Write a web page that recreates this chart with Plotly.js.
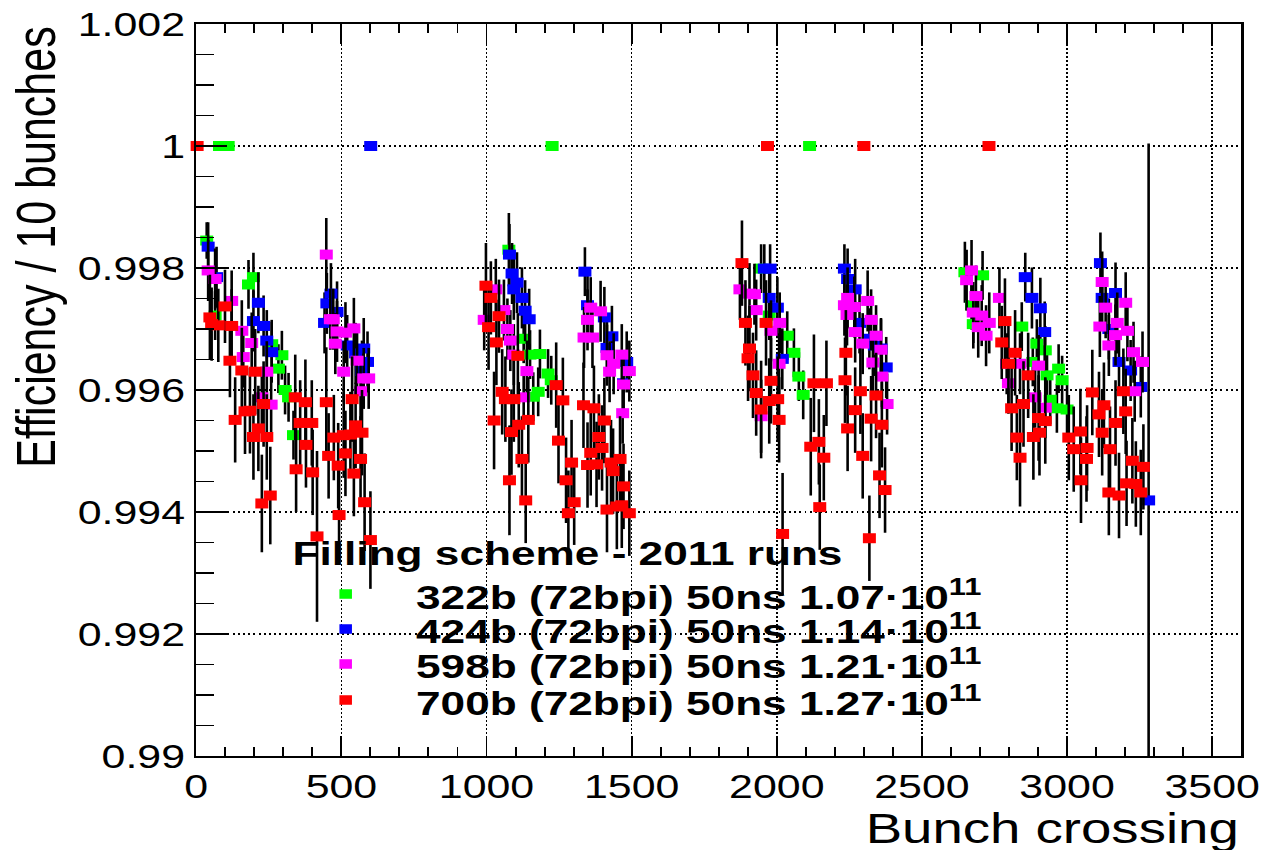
<!DOCTYPE html>
<html>
<head>
<meta charset="utf-8">
<script src="https://cdn.plot.ly/plotly-3.0.1.min.js"></script>
<style>
  html, body { margin: 0; padding: 0; background: #ffffff; overflow: hidden; }
  #wrap { width: 1262px; height: 850px; overflow: hidden; }
  #plot { width: 971px; height: 850px; transform: scaleX(1.2997); transform-origin: 0 0; }
</style>
</head>
<body>
<div id="wrap"><div id="plot"></div></div>
<script>
// ---------------- data ----------------
const seriesNames = [
  "322b (72bpi) 50ns 1.07\u00b710<sup>11</sup>",
  "424b (72bpi) 50ns 1.14\u00b710<sup>11</sup>",
  "598b (72bpi) 50ns 1.21\u00b710<sup>11</sup>",
  "700b (72bpi) 50ns 1.27\u00b710<sup>11</sup>"
];
const seriesColors = ["#00ff00", "#0000ff", "#ff00ff", "#ff0000"];
const legendTitle = "Filling scheme - 2011 runs";
const xTitle = "Bunch crossing";
const yTitle = "Efficiency / 10 bunches";

// 322b
const greenX = [36, 65, 80, 110, 180, 197, 260, 283, 295, 306, 318, 335,
  1077, 1128, 1150, 1161, 1178, 1184, 1212, 1223, 1226,
  1946, 1974, 2036, 2059, 2076, 2091, 2113,
  2648, 2671, 2677, 2709, 2844, 2882, 2896, 2925, 2931, 2942, 2965, 2971, 2983, 3000];
const greenY = [0.99845, 0.99722, 1.0, 1.0, 0.99773, 0.99785, 0.99675, 0.99635, 0.99657, 0.99600, 0.99588, 0.99526,
  0.99830, 0.99684, 0.99658, 0.99589, 0.99597, 0.99659, 0.99627, 0.99616, 1.0,
  0.99799, 0.99722, 0.99689, 0.99661, 0.99622, 0.99592, 1.0,
  0.99793, 0.99739, 0.99708, 0.99788, 0.99704, 0.99646, 0.99676, 0.99665, 0.99624, 0.99584, 0.99570, 0.99635, 0.99616, 0.99568];
const greenErr = [0.0003, 0.0004, 0, 0, 0.0004, 0.0004, 0.0004, 0.0004, 0.0004, 0.0004, 0.0004, 0.0004,
  0.0006, 0.0004, 0.0004, 0.0004, 0.0004, 0.0004, 0.0004, 0.0004, 0,
  0.0004, 0.0004, 0.0004, 0.0004, 0.0004, 0.0004, 0,
  0.0005, 0.0004, 0.0004, 0.0004, 0.0004, 0.0004, 0.0004, 0.0004, 0.0004, 0.0004, 0.0004, 0.0004, 0.0004, 0.0004];

// 424b
const blueX = [41, 70, 197, 214, 232, 243, 260,
  442, 450, 464, 485, 520, 549, 571, 577, 590, 601,
  1079, 1088, 1094, 1105, 1122, 1133, 1147,
  1339, 1348, 1406, 1415, 1432, 1472, 1483,
  1957, 1974, 1977, 2002, 2019,
  2233, 2244, 2270, 2285, 2319, 2336, 2359, 2377,
  2856, 2879, 2908, 2923,
  3115, 3121, 3144, 3167, 3179, 3219, 3254, 3281];
const blueY = [0.99835, 0.99785, 0.99713, 0.99743, 0.99705, 0.99681, 0.99662,
  0.99710, 0.99742, 0.99758, 0.99728, 0.99673, 0.99660, 0.99631, 0.99668, 0.99646, 1.0,
  0.99822, 0.99791, 0.99765, 0.99776, 0.99751, 0.99730, 0.99716,
  0.99794, 0.99739, 0.99719, 0.99669, 0.99688, 0.99611, 0.99646,
  0.99799, 0.99751, 0.99799, 0.99735, 0.99651,
  0.99799, 0.99782, 0.99765, 0.99710, 0.99684, 0.99673, 0.99668, 0.99637,
  0.99785, 0.99751, 0.99734, 0.99695,
  0.99808, 0.99751, 0.99700, 0.99759, 0.99646, 0.99632, 0.99605, 0.99419];
const blueErrUp = [0.0004, 0.0005, 0.0005, 0.0005, 0.0005, 0.0005, 0.0005,
  0.0005, 0.0005, 0.0005, 0.0005, 0.0005, 0.0005, 0.0005, 0.0005, 0.0005, 0,
  0.0005, 0.0005, 0.0005, 0.0005, 0.0005, 0.0005, 0.0005,
  0.0004, 0.0005, 0.0005, 0.0005, 0.0005, 0.0005, 0.0005,
  0.0004, 0.0005, 0.0004, 0.0005, 0.0005,
  0.0004, 0.0005, 0.0005, 0.0005, 0.0005, 0.0005, 0.0005, 0.0005,
  0.0004, 0.0005, 0.0005, 0.0005,
  0.0005, 0.0005, 0.0005, 0.0005, 0.0005, 0.0005, 0.0005, 0.00585];
const blueErrDown = [0.0004, 0.0005, 0.0005, 0.0005, 0.0005, 0.0005, 0.0005,
  0.0005, 0.0005, 0.0005, 0.0005, 0.0005, 0.0005, 0.0005, 0.0005, 0.0005, 0,
  0.0005, 0.0005, 0.0005, 0.0005, 0.0005, 0.0005, 0.0005,
  0.0004, 0.0005, 0.0005, 0.0005, 0.0005, 0.0005, 0.0005,
  0.0004, 0.0005, 0.0004, 0.0005, 0.0005,
  0.0004, 0.0005, 0.0005, 0.0005, 0.0005, 0.0005, 0.0005, 0.0005,
  0.0004, 0.0005, 0.0005, 0.0005,
  0.0005, 0.0005, 0.0005, 0.0005, 0.0005, 0.0005, 0.0005, 0.00419];

// 598b
const magentaX = [41, 65, 122, 157, 162, 191, 226, 243, 258,
  448, 462, 472, 479, 485, 508, 514, 543, 554, 566, 577, 594,
  992, 1032, 1060, 1072, 1082, 1094, 1128, 1139,
  1336, 1348, 1359, 1365, 1393, 1415, 1424, 1438, 1466, 1469, 1472, 1492,
  1873, 1906, 1923, 1929, 1946, 1980, 2008, 2010,
  2233, 2242, 2244, 2267, 2270, 2296, 2313, 2325, 2331, 2342, 2359, 2362, 2380,
  2654, 2671, 2677, 2686, 2694, 2706, 2721, 2732, 2767, 2792, 2798, 2838, 2890, 2902, 2925,
  3113, 3121, 3133, 3144, 3167, 3173, 3202, 3208, 3229, 3233, 3260];
const magentaY = [0.99796, 0.99782, 0.99746, 0.99697, 0.99654, 0.99677, 0.99588, 0.99630, 0.99576,
  0.99822, 0.99716, 0.99716, 0.99676, 0.99696, 0.99630, 0.99694, 0.99701, 0.99648, 0.99598, 0.99619, 0.99619,
  0.99715, 0.99765, 0.99731, 0.99700, 0.99681, 0.99658, 0.99588, 0.99631,
  0.99686, 0.99715, 0.99735, 0.99686, 0.99729, 0.99657, 0.99630, 0.99643, 0.99658, 0.99562, 0.99609, 0.99631,
  0.99765, 0.99758, 0.99757, 0.99731, 0.99557, 0.99697, 0.99643, 0.99710,
  0.99739, 0.99723, 0.99751, 0.99736, 0.99695, 0.99676, 0.99746, 0.99715, 0.99645, 0.99689, 0.99666, 0.99622, 0.99577,
  0.99780, 0.99796, 0.99727, 0.99754, 0.99703, 0.99722, 0.99689, 0.99710, 0.99751, 0.99643, 0.99611, 0.99643, 0.99588, 0.99640, 0.99571,
  0.99704, 0.99777, 0.99735, 0.99673, 0.99690, 0.99710, 0.99743, 0.99697, 0.99662, 0.99598, 0.99646];
const magentaErr = [0.0005, 0.0005, 0.0005, 0.0005, 0.0005, 0.0005, 0.0005, 0.0005, 0.0005,
  0.0006, 0.0005, 0.0005, 0.0005, 0.0005, 0.0005, 0.0005, 0.0005, 0.0005, 0.0005, 0.0005, 0.0005,
  0.0005, 0.0005, 0.0005, 0.0005, 0.0005, 0.0005, 0.0005, 0.0005,
  0.0005, 0.0005, 0.0005, 0.0005, 0.0005, 0.0005, 0.0005, 0.0005, 0.0005, 0.0005, 0.0005, 0.0005,
  0.0005, 0.0005, 0.0005, 0.0005, 0.0006, 0.0005, 0.0005, 0.0005,
  0.0005, 0.0005, 0.0005, 0.0005, 0.0005, 0.0005, 0.0005, 0.0005, 0.0005, 0.0005, 0.0005, 0.0005, 0.0005,
  0.0005, 0.0005, 0.0005, 0.0005, 0.0005, 0.0005, 0.0005, 0.0005, 0.0005, 0.0005, 0.0005, 0.0005, 0.0005, 0.0005, 0.0005,
  0.0005, 0.0005, 0.0005, 0.0005, 0.0005, 0.0005, 0.0005, 0.0005, 0.0005, 0.0005, 0.0005];

// 700b
const redX = [3, 47, 53, 76, 99, 116, 122, 134, 157, 168, 185, 197, 203, 214, 226, 232, 243, 255,
  341, 344, 358, 376, 378, 398, 401, 416,
  448, 456, 474, 489, 492, 508, 514, 531, 537, 543, 549, 566, 571, 580, 600,
  998, 1007, 1015, 1026, 1034, 1043, 1054, 1065, 1079, 1086, 1094, 1108, 1111, 1122, 1135, 1144,
  1240, 1248, 1263, 1274, 1282, 1293, 1302,
  1334, 1348, 1359, 1370, 1379, 1387, 1398, 1406, 1415, 1429, 1436, 1449, 1460, 1466, 1472, 1492,
  1880, 1892, 1901, 1906, 1918, 1929, 1946, 1963, 1968, 1974, 1980, 2003, 2008, 2020,
  2117, 2128, 2145, 2148, 2162, 2171,
  2235, 2238, 2244, 2270, 2288, 2296, 2300, 2319, 2325, 2342, 2354, 2362, 2373,
  2731, 2775, 2786, 2798, 2809, 2821, 2827, 2838, 2850, 2866, 2884, 2902, 2905, 2925,
  3006, 3023, 3046, 3048, 3067, 3069,
  3087, 3110, 3121, 3127, 3144, 3148, 3167, 3179, 3194, 3202, 3205, 3225, 3237, 3254, 3263];
const redY = [1.0, 0.99719, 0.99708, 0.99706, 0.99737, 0.99648, 0.99705, 0.99551, 0.99632, 0.99565, 0.99566, 0.99523, 0.99630, 0.99537, 0.99414, 0.99577, 0.99523, 0.99427,
  0.99588, 0.99470, 0.99546, 0.99580, 0.99510, 0.99546, 0.99465, 0.99360,
  0.99580, 0.99492, 0.99522, 0.99476, 0.99395, 0.99526, 0.99496, 0.99527, 0.99585, 0.99463, 0.99542, 0.99487, 0.99530, 0.99416, 0.99354,
  0.99771, 0.99703, 0.99751, 0.99550, 0.99678, 0.99721, 0.99597, 0.99585, 0.99452, 0.99531, 0.99585, 0.99656, 0.99543, 0.99487, 0.99419, 0.99551,
  0.99608, 0.99517, 0.99583, 0.99452, 0.99398, 0.99481, 0.99416,
  0.99575, 0.99477, 0.99497, 0.99570, 0.99478, 0.99523, 0.99505, 0.99550, 0.99404, 0.99481, 0.99467, 0.99409, 0.99487, 0.99411, 0.99442, 0.99398,
  0.99808, 0.99710, 0.99652, 0.99668, 0.99624, 0.99595, 0.99568, 0.99710, 1.0, 0.99582, 0.99615, 0.99585, 0.99551, 0.99364,
  0.99507, 0.99611, 0.99515, 0.99408, 0.99489, 0.99611,
  0.99616, 0.99661, 0.99537, 0.99567, 0.99598, 0.99492, 1.0, 0.99357, 0.99553, 0.99591, 0.99460, 0.99543, 0.99436,
  1.0, 0.99678, 0.99713, 0.99643, 0.99570, 0.99661, 0.99522, 0.99489, 0.99577, 0.99624, 0.99523, 0.99554, 0.99530, 0.99549,
  0.99522, 0.99503, 0.99532, 0.99452, 0.99487, 0.99505,
  0.99596, 0.99560, 0.99530, 0.99575, 0.99432, 0.99503, 0.99546, 0.99427, 0.99598, 0.99565, 0.99447, 0.99484, 0.99446, 0.99432, 0.99474];
const redErr = [0, 0.0007, 0.0006, 0.0006, 0.0006, 0.0006, 0.0006, 0.0007, 0.0007, 0.0007, 0.0007, 0.0007, 0.0007, 0.0007, 0.0008, 0.0007, 0.0007, 0.0008,
  0.0007, 0.0007, 0.0007, 0.0007, 0.0007, 0.0007, 0.0007, 0.0014,
  0.0009, 0.0007, 0.0007, 0.0007, 0.0008, 0.0007, 0.0007, 0.0007, 0.0007, 0.0007, 0.0007, 0.0007, 0.0007, 0.0008, 0.0008,
  0.0007, 0.0007, 0.0006, 0.0008, 0.0007, 0.0006, 0.0007, 0.0007, 0.0009, 0.0007, 0.0007, 0.0007, 0.0007, 0.0007, 0.0007, 0.0007,
  0.0007, 0.0007, 0.0007, 0.0007, 0.0007, 0.0007, 0.0007,
  0.0007, 0.0007, 0.0007, 0.0007, 0.0007, 0.0007, 0.0007, 0.0007, 0.0007, 0.0007, 0.0007, 0.0007, 0.0007, 0.0007, 0.0007, 0.0007,
  0.0007, 0.0007, 0.0007, 0.0007, 0.0007, 0.0007, 0.0008, 0.0007, 0, 0.0007, 0.0007, 0.0007, 0.0007, 0.0010,
  0.0008, 0.0008, 0.0007, 0.0007, 0.0007, 0.0007,
  0.0007, 0.0007, 0.0007, 0.0007, 0.0007, 0.0007, 0, 0.0007, 0.0007, 0.0007, 0.0007, 0.0007, 0.0007,
  0, 0.0006, 0.0007, 0.0007, 0.0007, 0.0007, 0.0007, 0.0008, 0.0007, 0.0007, 0.0007, 0.0007, 0.0007, 0.0007,
  0.0007, 0.0007, 0.0007, 0.0007, 0.0007, 0.0007,
  0.0007, 0.0007, 0.0007, 0.0007, 0.0007, 0.0007, 0.0007, 0.0007, 0.0007, 0.0007, 0.0007, 0.0007, 0.0007, 0.0007, 0.0007];

// ---------------- traces ----------------
function mk(x, y, errUp, errDown, color, name) {
  const e = { type: 'data', color: '#000000', thickness: 2, width: 0, visible: true };
  if (errDown) { e.symmetric = false; e.array = errUp; e.arrayminus = errDown; }
  else { e.symmetric = true; e.array = errUp; }
  return {
    type: 'scatter', mode: 'markers', x: x, y: y, name: name, showlegend: false,
    cliponaxis: false,
    marker: { symbol: 'square', size: 10, color: color, line: { width: 0 } },
    error_y: e, hoverinfo: 'skip'
  };
}
const traces = [
  mk(greenX, greenY, greenErr, null, seriesColors[0], seriesNames[0]),
  mk(blueX, blueY, blueErrUp, blueErrDown, seriesColors[1], seriesNames[1]),
  mk(magentaX, magentaY, magentaErr, null, seriesColors[2], seriesNames[2]),
  mk(redX, redY, redErr, null, seriesColors[3], seriesNames[3])
];

// ---------------- layout ----------------
const FONT = 'Liberation Sans, Arial, Helvetica, sans-serif';
const legendRowsY = [0.2213, 0.1735, 0.1257, 0.0765];
const annotations = [
  { text: yTitle, xref: 'paper', yref: 'paper', x: -0.154, y: 0.9986, xanchor: 'center', yanchor: 'top',
    textangle: -90, showarrow: false, font: { family: FONT, size: 43, color: '#000' } },
  { text: xTitle, xref: 'paper', yref: 'paper', x: 1.0, y: -0.0985, xanchor: 'right', yanchor: 'middle',
    showarrow: false, font: { family: FONT, size: 42, color: '#000' } },
  { text: '<b>' + legendTitle + '</b>', xref: 'paper', yref: 'paper', x: 0.0896, y: 0.2773, xanchor: 'left', yanchor: 'middle',
    showarrow: false, font: { family: FONT, size: 34, color: '#000' } }
];
const shapes = [];
for (let i = 0; i < seriesNames.length; i++) {
  annotations.push({ text: '<b>' + seriesNames[i] + '</b>', xref: 'paper', yref: 'paper', x: 0.2073, y: legendRowsY[i],
    xanchor: 'left', yanchor: 'middle', showarrow: false, font: { family: FONT, size: 34, color: '#000' } });
  shapes.push({ type: 'rect', xref: 'paper', yref: 'paper', x0: 0.143 - 0.006, x1: 0.143 + 0.006,
    y0: legendRowsY[i] - 0.0065, y1: legendRowsY[i] + 0.0065, fillcolor: seriesColors[i], line: { width: 0 } });
}

const GRIDDASH = '1.5px,2.5px';
const layout = {
  width: 971, height: 850,
  margin: { l: 151, r: 16, t: 24, b: 94, pad: 0 },
  paper_bgcolor: '#ffffff', plot_bgcolor: '#ffffff',
  showlegend: false,
  font: { family: FONT, color: '#000' },
  xaxis: {
    range: [0, 3600], tick0: 0, dtick: 500, ticks: 'inside', ticklen: 20, tickwidth: 1.5, tickcolor: '#000',
    minor: { dtick: 100, ticks: 'inside', ticklen: 9, tickwidth: 1.5, tickcolor: '#000', showgrid: false },
    showgrid: true, gridcolor: '#000', griddash: GRIDDASH, gridwidth: 1.2,
    showline: true, linecolor: '#000', linewidth: 2, mirror: 'ticks', zeroline: false,
    tickfont: { family: FONT, size: 33, color: '#000' }
  },
  yaxis: {
    range: [0.99, 1.002], tick0: 0.99, dtick: 0.002, ticks: 'inside', ticklen: 24, tickwidth: 1.5, tickcolor: '#000',
    minor: { dtick: 0.0005, ticks: 'inside', ticklen: 14, tickwidth: 1.5, tickcolor: '#000', showgrid: false },
    showgrid: true, gridcolor: '#000', griddash: GRIDDASH, gridwidth: 1.2,
    showline: true, linecolor: '#000', linewidth: 2, mirror: true, zeroline: false,
    tickfont: { family: FONT, size: 33, color: '#000' }
  },
  annotations: annotations,
  shapes: shapes
};

Plotly.newPlot('plot', traces, layout, { displayModeBar: false, staticPlot: true });
</script>
</body>
</html>
